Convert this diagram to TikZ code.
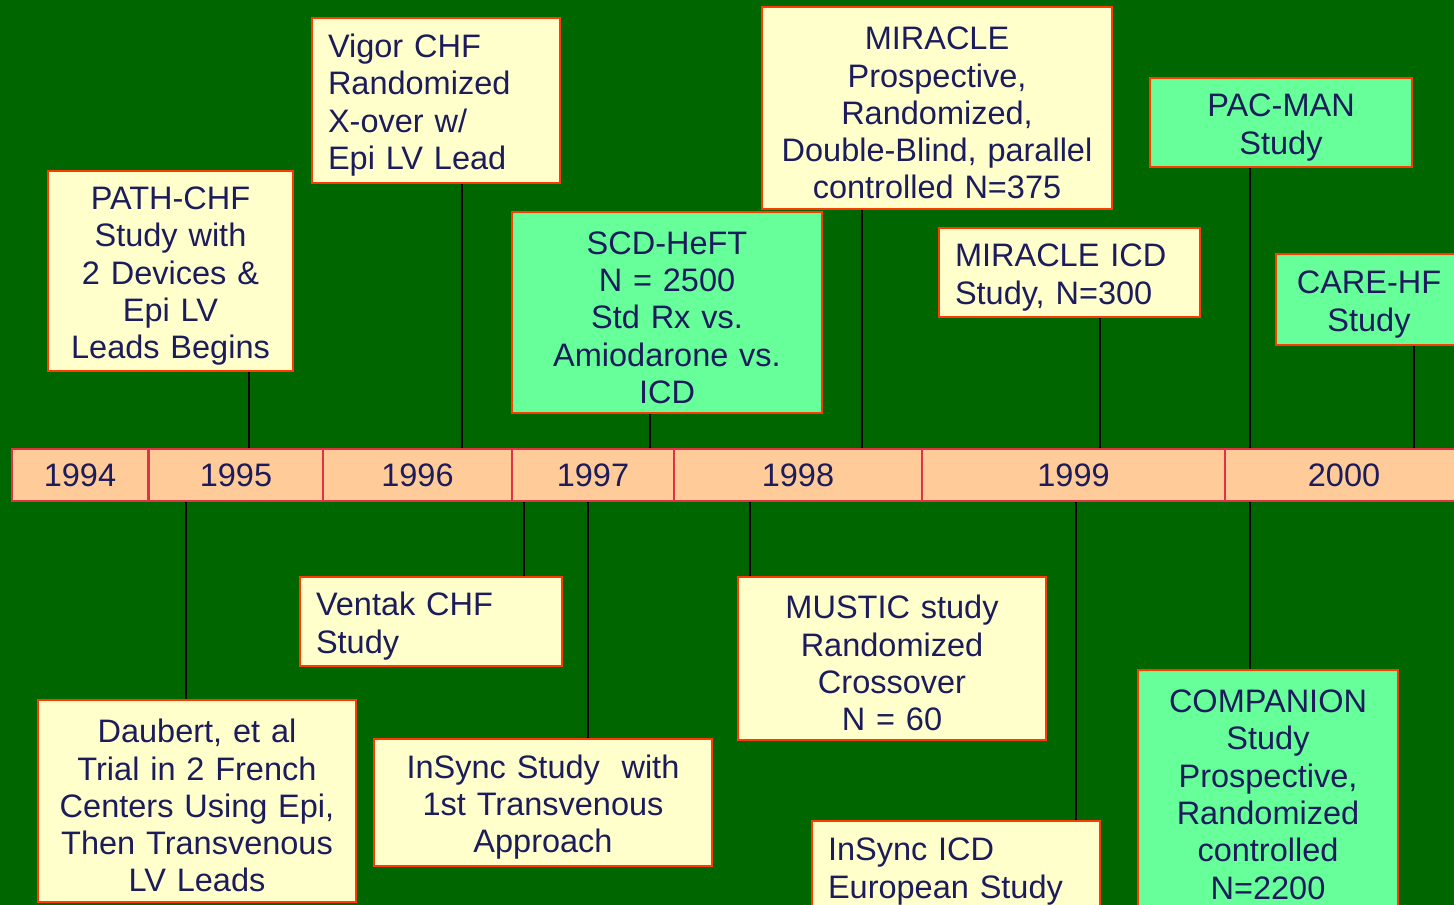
\documentclass[tikz,border=0pt]{standalone}
\usepackage{fontspec}
\setmainfont{Liberation Sans}
\definecolor{bg}{RGB}{0,102,0}
\definecolor{ylw}{RGB}{255,255,204}
\definecolor{grn}{RGB}{102,255,153}
\definecolor{peach}{RGB}{255,204,153}
\definecolor{boxline}{RGB}{255,60,0}
\definecolor{yrline}{RGB}{222,50,70}
\definecolor{ink}{RGB}{28,28,92}
\newcommand\evfont{\fontsize{32.5pt}{37.3pt}\selectfont}
\begin{document}
\begin{tikzpicture}[x=1pt,y=-1pt,
  evbox/.style={rectangle, draw=boxline, line width=2pt, fill=ylw, text=ink,
    font=\evfont, inner xsep=16pt, inner ysep=0pt,
    execute at begin node={\rule{0pt}{33pt}}},
  gbox/.style={evbox, fill=grn},
  ctr/.style={align=center},
  lft/.style={align=left},
  yearcell/.style={rectangle, draw=yrline, line width=2pt, fill=peach, text=ink,
    font=\evfont, minimum height=52pt, inner sep=0pt},
  conn/.style={draw=black, line width=2pt}]
\fill[bg] (0,0) rectangle (1454,905);
\useasboundingbox (0,0) rectangle (1454,905);

% timeline
\node[yearcell, minimum width=136pt] (y1994) at (80,475) {1994};
\node[yearcell, minimum width=174pt] (y1995) at (236,475) {1995};
\node[yearcell, minimum width=189pt] (y1996) at (417.5,475) {1996};
\node[yearcell, minimum width=162pt] (y1997) at (593,475) {1997};
\node[yearcell, minimum width=248pt] (y1998) at (798,475) {1998};
\node[yearcell, minimum width=303pt] (y1999) at (1073.5,475) {1999};
\node[yearcell, minimum width=238pt] (y2000) at (1344,475) {2000};

% top events
\node[evbox, ctr, minimum width=245pt, minimum height=200pt, text width=213pt] (pathchf) at (170.5,271)
  {PATH-CHF\\Study with\\2 Devices \&\\Epi LV\\Leads Begins};
\node[evbox, lft, minimum width=248pt, minimum height=165pt, text width=216pt] (vigor) at (436,100.5)
  {Vigor CHF\\Randomized\\X-over w/\\Epi LV Lead};
\node[gbox, ctr, minimum width=310pt, minimum height=201pt, text width=278pt] (scdheft) at (667,312.5)
  {SCD-HeFT\\N = 2500\\Std Rx vs.\\Amiodarone vs.\\ICD};
\node[evbox, ctr, minimum width=350pt, minimum height=202pt, text width=330pt, inner xsep=10pt] (miracle) at (937,108)
  {MIRACLE\\Prospective,\\Randomized,\\Double-Blind, parallel\\controlled N=375};
\node[evbox, lft, minimum width=261pt, minimum height=89pt, text width=229pt] (miricd) at (1069.5,272.5)
  {MIRACLE ICD\\Study, N=300};
\node[gbox, ctr, minimum width=262pt, minimum height=89pt, text width=230pt] (pacman) at (1281,122.5)
  {PAC-MAN\\Study};
\node[gbox, ctr, minimum width=186pt, minimum height=91pt, text width=154pt] (carehf) at (1369,299.5)
  {CARE-HF\\Study};

% bottom events
\node[evbox, lft, minimum width=262pt, minimum height=89pt, text width=230pt] (ventak) at (431,621.5)
  {Ventak CHF\\Study};
\node[evbox, ctr, minimum width=318pt, minimum height=202pt, text width=298pt, inner xsep=10pt] (daubert) at (197,801)
  {Daubert, et al\\Trial in 2 French\\Centers Using Epi,\\Then Transvenous\\LV Leads};
\node[evbox, ctr, minimum width=338pt, minimum height=127pt, text width=306pt] (insync) at (543,802.5)
  {InSync Study\ \ with\\1st Transvenous\\Approach};
\node[evbox, ctr, minimum width=308pt, minimum height=163pt, text width=276pt] (mustic) at (892,658.5)
  {MUSTIC study\\Randomized\\Crossover\\N = 60};
\node[evbox, lft, minimum width=288pt, minimum height=91pt, text width=256pt] (insyncicd) at (956,866.5)
  {InSync ICD\\European Study};
\node[gbox, ctr, minimum width=260pt, minimum height=239pt, text width=228pt] (companion) at (1268,789.5)
  {COMPANION\\Study\\Prospective,\\Randomized\\controlled\\N=2200};

% connectors, top
\draw[conn] ([xshift=78.5pt]pathchf.south) -- ([xshift=78.5pt]pathchf.south |- y1995.north);
\draw[conn] ([xshift=26pt]vigor.south) -- ([xshift=26pt]vigor.south |- y1996.north);
\draw[conn] ([xshift=-17pt]scdheft.south) -- ([xshift=-17pt]scdheft.south |- y1997.north);
\draw[conn] ([xshift=-75pt]miracle.south) -- ([xshift=-75pt]miracle.south |- y1998.north);
\draw[conn] ([xshift=30.5pt]miricd.south) -- ([xshift=30.5pt]miricd.south |- y1999.north);
\draw[conn] ([xshift=-31pt]pacman.south) -- ([xshift=-31pt]pacman.south |- y2000.north);
\draw[conn] ([xshift=45pt]carehf.south) -- ([xshift=45pt]carehf.south |- y2000.north);

% connectors, bottom
\draw[conn] ([xshift=-11pt]daubert.north) -- ([xshift=-11pt]daubert.north |- y1995.south);
\draw[conn] ([xshift=93pt]ventak.north) -- ([xshift=93pt]ventak.north |- y1997.south);
\draw[conn] ([xshift=45pt]insync.north) -- ([xshift=45pt]insync.north |- y1997.south);
\draw[conn] ([xshift=-142pt]mustic.north) -- ([xshift=-142pt]mustic.north |- y1998.south);
\draw[conn] ([xshift=120pt]insyncicd.north) -- ([xshift=120pt]insyncicd.north |- y1999.south);
\draw[conn] ([xshift=-18pt]companion.north) -- ([xshift=-18pt]companion.north |- y2000.south);
\end{tikzpicture}
\end{document}
